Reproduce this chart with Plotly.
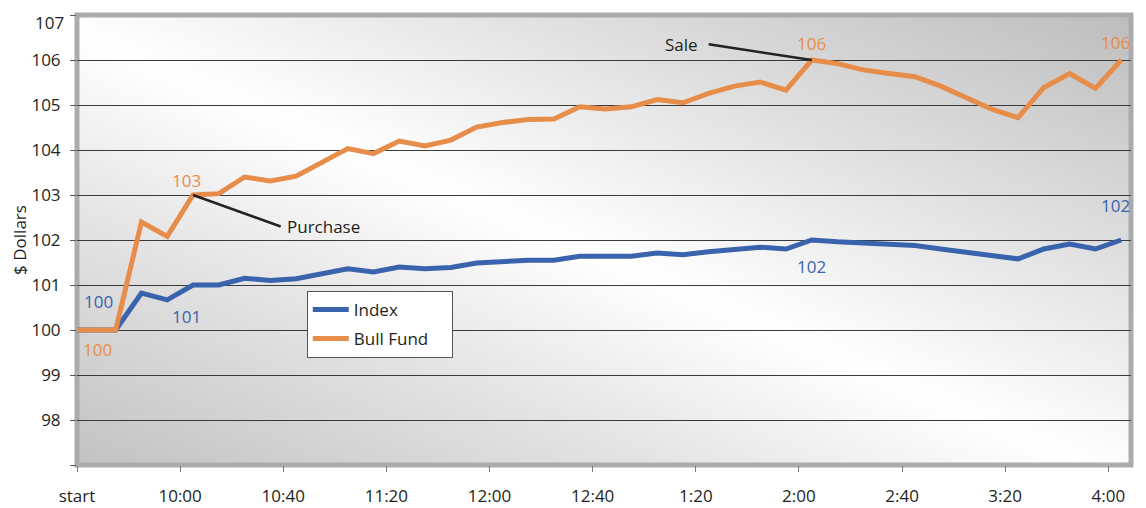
import base64
import plotly.graph_objects as go

# ---- data ----
minutes = [0, 15, 25, 35, 45, 55, 65, 75, 85, 95, 105, 115, 125, 135, 145, 155, 165, 175,
           185, 195, 205, 215, 225, 235, 245, 255, 265, 275, 285, 295, 305, 315, 325, 335,
           345, 355, 365, 375, 385, 395, 405]

index_vals = [100.0, 100.0, 100.82, 100.67, 101.0, 101.0, 101.15, 101.1, 101.14, 101.24,
              101.36, 101.29, 101.4, 101.36, 101.39, 101.49, 101.52, 101.55, 101.55, 101.64,
              101.64, 101.64, 101.71, 101.67, 101.74, 101.8, 101.84, 101.8, 102.0, 101.96,
              101.93, 101.91, 101.88, 101.8, 101.72, 101.65, 101.58, 101.8, 101.91, 101.8, 102.0]

bull_vals = [100.0, 100.0, 102.4, 102.08, 103.0, 103.03, 103.4, 103.31, 103.42, 103.73,
             104.03, 103.92, 104.2, 104.09, 104.22, 104.51, 104.61, 104.68, 104.69, 104.96,
             104.91, 104.96, 105.12, 105.05, 105.26, 105.42, 105.51, 105.33, 106.0, 105.92,
             105.78, 105.7, 105.63, 105.42, 105.15, 104.9, 104.72, 105.39, 105.7, 105.37, 106.0]

tick_minutes = [0, 40, 80, 120, 160, 200, 240, 280, 320, 360, 400]
tick_labels = ["start", "10:00", "10:40", "11:20", "12:00", "12:40", "1:20", "2:00", "2:40", "3:20", "4:00"]

y_ticks = [97, 98, 99, 100, 101, 102, 103, 104, 105, 106, 107]
y_labels = ["", "98", "99", "100", "101", "102", "103", "104", "105", "106", ""]
y_top_label = "107"

series_names = ["Index", "Bull Fund"]

purchase_i = 4   # point where fund was bought
sale_i = 28      # point where fund was sold
last_i = len(minutes) - 1

BLUE = "#3a63ad"
ORANGE = "#e68d4a"
TEXT = "#231f20"
FONT = "Open Sans"
FS = 17

# ---- background gradient (svg) ----
svg = (
    '<svg xmlns="http://www.w3.org/2000/svg" width="1000" height="430" viewBox="0 0 100 100" '
    'preserveAspectRatio="none">'
    '<defs><linearGradient id="g" x1="1" y1="0" x2="0" y2="1">'
    '<stop offset="0" stop-color="#bdbdbd"/>'
    '<stop offset="0.28" stop-color="#e0e0e0"/>'
    '<stop offset="0.52" stop-color="#ffffff"/>'
    '<stop offset="0.72" stop-color="#e4e4e4"/>'
    '<stop offset="1" stop-color="#c2c2c2"/>'
    '</linearGradient></defs>'
    '<rect x="0" y="0" width="100" height="100" fill="url(#g)"/></svg>'
)
svg_uri = "data:image/svg+xml;base64," + base64.b64encode(svg.encode()).decode()

PAD = "\u00a0" * 4  # widen legend box

fig = go.Figure()
fig.add_trace(go.Scatter(x=minutes, y=index_vals, mode="lines", name=series_names[0] + PAD,
                         line=dict(color=BLUE, width=5), legendgroup="a"))
fig.add_trace(go.Scatter(x=minutes, y=bull_vals, mode="lines", name=series_names[1] + PAD,
                         line=dict(color=ORANGE, width=5), legendgroup="b"))

# leader lines
fig.add_shape(type="line", x0=minutes[purchase_i], y0=bull_vals[purchase_i], x1=79, y1=102.3,
              line=dict(color="#222222", width=2.5), layer="above")
fig.add_shape(type="line", x0=minutes[sale_i], y0=bull_vals[sale_i], x1=245, y1=106.35,
              line=dict(color="#222222", width=2.5), layer="above")
# frame
fig.add_shape(type="rect", xref="paper", yref="paper", x0=0, y0=0, x1=1, y1=1,
              line=dict(color="#a9abae", width=5), layer="between")

def lab(i, vals, color, xs, ys, text=None):
    fig.add_annotation(x=minutes[i], y=vals[i], text=text or f"{vals[i]:.0f}", showarrow=False,
                       xshift=xs, yshift=ys, font=dict(family=FONT, size=FS, color=color))

lab(0, index_vals, BLUE, 21, 29)
lab(0, bull_vals, ORANGE, 20, -19)
lab(purchase_i, index_vals, BLUE, -7, -31)
lab(purchase_i, bull_vals, ORANGE, -7, 15)
lab(sale_i, bull_vals, ORANGE, 0, 17)
lab(sale_i, index_vals, BLUE, 0, -26)
lab(last_i, bull_vals, ORANGE, -6, 18)
lab(last_i, index_vals, BLUE, -6, 35)

fig.add_annotation(x=79, y=102.3, text="Purchase", showarrow=False, xanchor="left", xshift=4,
                   font=dict(family=FONT, size=FS, color=TEXT))
fig.add_annotation(x=245, y=106.35, text="Sale", showarrow=False, xanchor="right", xshift=-9,
                   font=dict(family=FONT, size=FS, color=TEXT))
# top y tick label kept inside the page
fig.add_annotation(xref="paper", x=0, y=y_ticks[-1], text=y_top_label, showarrow=False,
                   xanchor="right", yanchor="top", xshift=-11, yshift=6,
                   font=dict(family=FONT, size=FS, color=TEXT))

fig.add_layout_image(dict(source=svg_uri, xref="paper", yref="paper", x=0, y=1, sizex=1, sizey=1,
                          xanchor="left", yanchor="top", sizing="stretch", layer="below"))

fig.update_layout(
    width=1138, height=500,
    margin=dict(l=69, r=15, t=7, b=43, autoexpand=False),
    paper_bgcolor="white", plot_bgcolor="rgba(0,0,0,0)",
    font=dict(family=FONT, size=FS, color=TEXT),
    showlegend=True,
    legend=dict(x=0.218, y=0.387, xanchor="left", yanchor="top", bgcolor="white",
                bordercolor="#555555", borderwidth=1, font=dict(family=FONT, size=FS, color=TEXT),
                tracegroupgap=4, traceorder="grouped", itemwidth=36),
    xaxis=dict(range=[0, 408.8], tickvals=tick_minutes, ticktext=tick_labels, showgrid=False,
               zeroline=False, ticks="outside", ticklen=6, tickcolor="#777777",
               ticklabelstandoff=10, showline=False, automargin=False),
    yaxis=dict(range=[97, 107], tickvals=y_ticks, ticktext=y_labels, showgrid=True,
               gridcolor="#3a3a3a", gridwidth=1, zeroline=False, ticks="outside", ticklen=6,
               tickcolor="#555555", ticklabelstandoff=6, showline=False, automargin=False,
               title=dict(text="$ Dollars", font=dict(family=FONT, size=FS, color=TEXT))),
)

fig.write_html("out.html")
